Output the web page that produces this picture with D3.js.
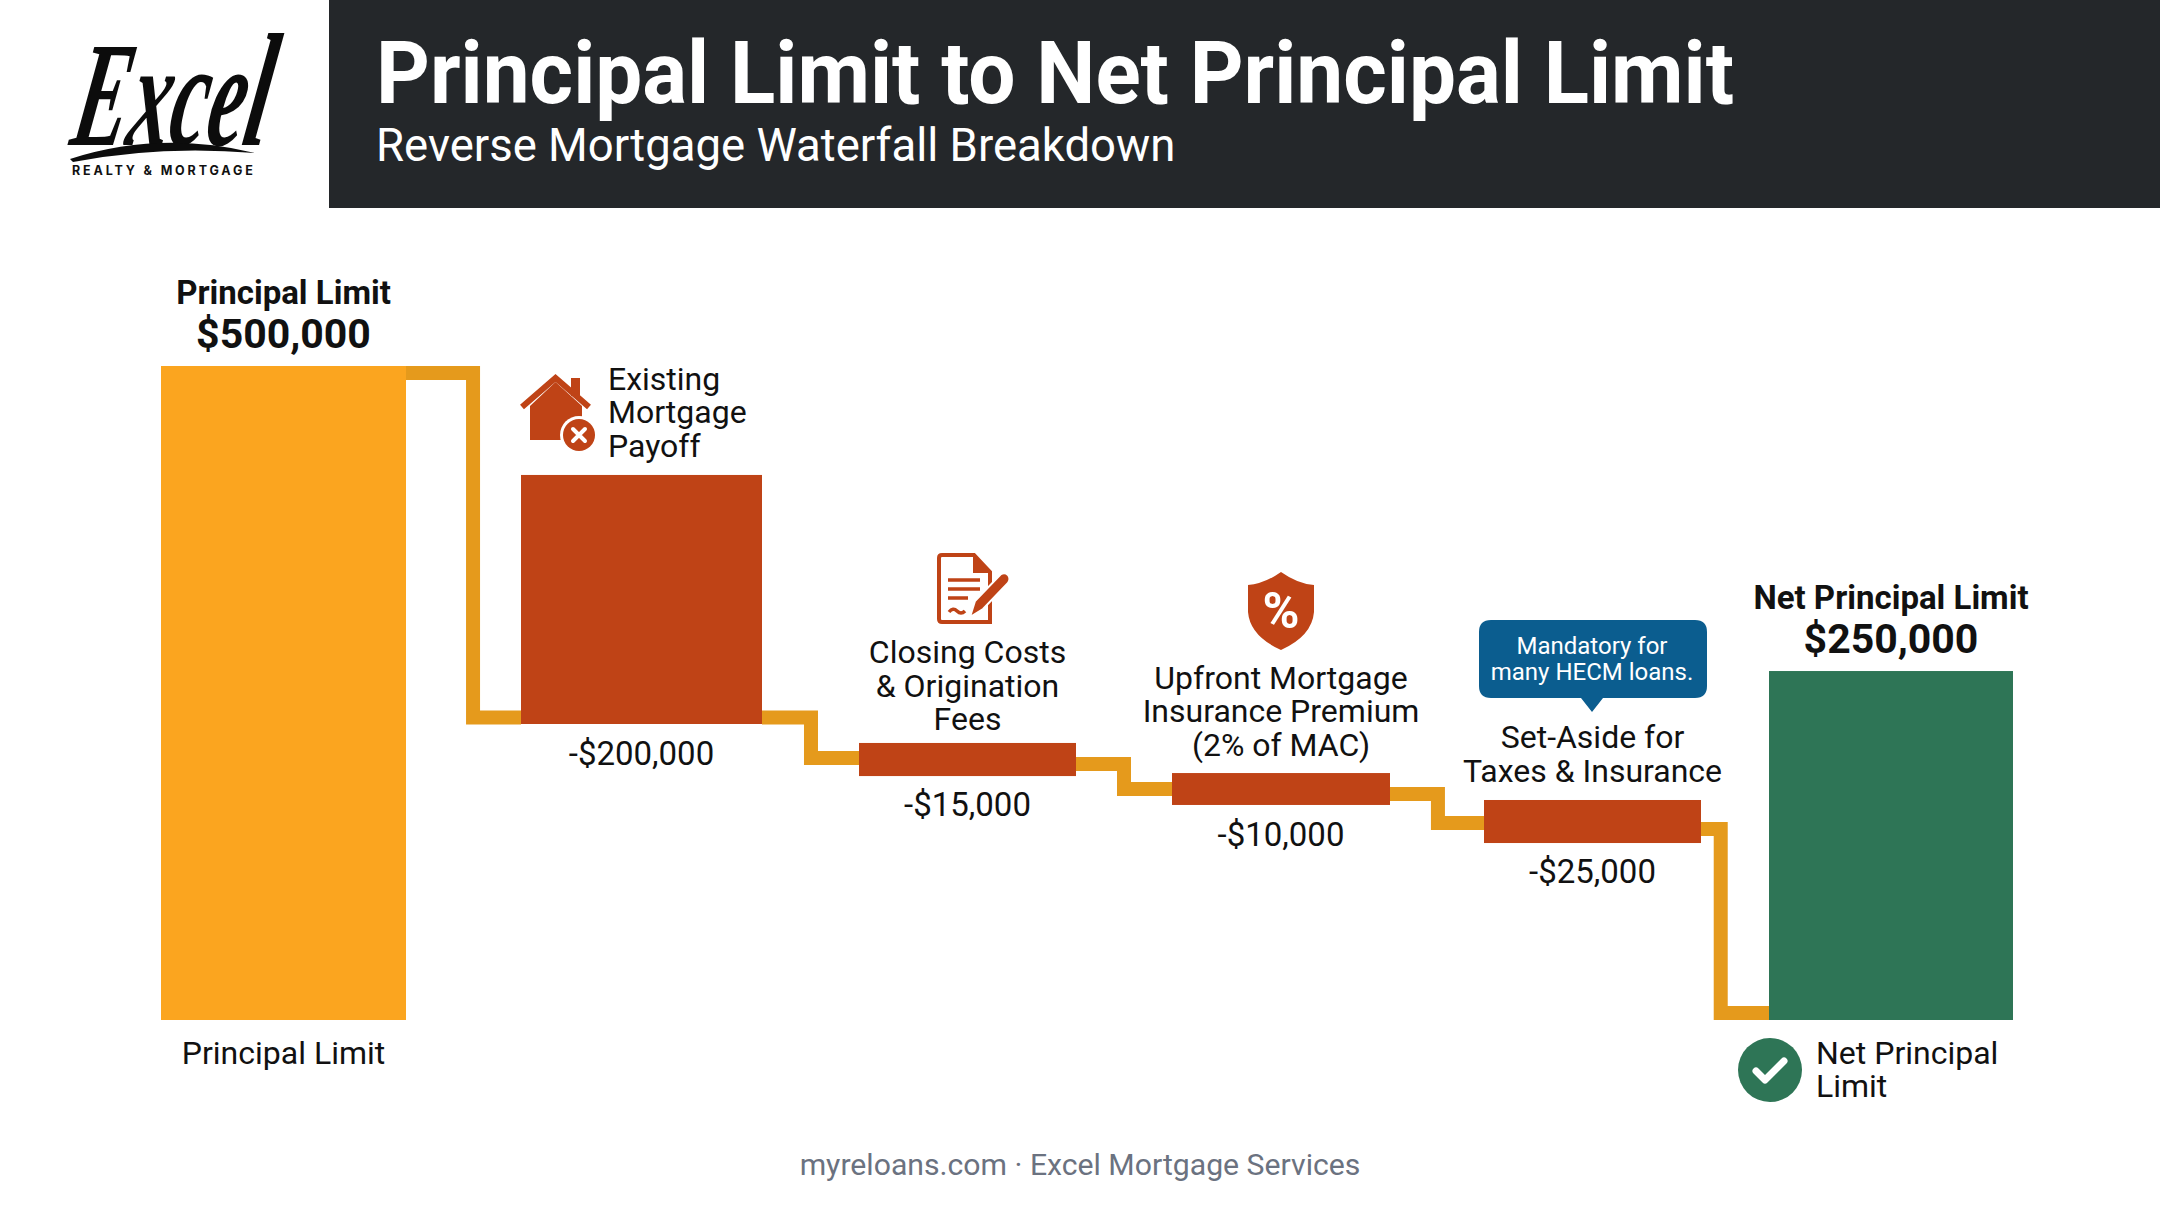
<!DOCTYPE html>
<html>
<head>
<meta charset="utf-8">
<script src="https://cdn.jsdelivr.net/npm/d3@7"></script>
<style>
  html, body { margin: 0; padding: 0; background: #fff; }
  svg { display: block; }
  text { font-family: Roboto, sans-serif; }
</style>
</head>
<body>
<script>
const categories = ["Principal Limit", "Existing Mortgage Payoff", "Closing Costs & Origination Fees",
  "Upfront Mortgage Insurance Premium", "Set-Aside for Taxes & Insurance", "Net Principal Limit"];
const amountLabels = ["$500,000", "-$200,000", "-$15,000", "-$10,000", "-$25,000", "$250,000"];
// the bars in the picture are not to scale with their printed amounts,
// so these are the extents, in dollars of the first bar's scale
const barTops = [500000, 416700, 211800, 188800, 168200, 266800];
const barBottoms = [0, 226300, 186500, 164400, 135300, 0];
// connector levels leaving each bar and arriving at the next one
const connectorFrom = [494700, 231300, 195700, 172800, 146000];
const connectorTo = [231300, 200300, 176600, 150600, 5400];
const barKinds = ["start", "cost", "cost", "cost", "cost", "end"];

const width = 2160;
const height = 1206;

// layout
const barCenters = [283.5, 641.5, 967.5, 1281, 1592.5, 1891];
const barWidths = [245, 241, 217, 218, 217, 244];
const elbowFractions = [0.583, 0.505, 0.5, 0.51, 0.29];
const colors = { start: "#FBA51F", cost: "#BF4316", end: "#2E7556" };
const connectorColor = "#E59A1C";
const inkColor = "#111111";

const x = d3.scaleOrdinal().domain(categories).range(barCenters);
const w = d3.scaleOrdinal().domain(categories).range(barWidths);
const y = d3.scaleLinear().domain([0, 500000]).range([1020, 366]);
const color = d3.scaleOrdinal().domain(["start", "cost", "end"]).range([colors.start, colors.cost, colors.end]);

const svg = d3.select("body").append("svg")
  .attr("width", width)
  .attr("height", height)
  .attr("viewBox", [0, 0, width, height]);

// one text element per block, one tspan per line
function label(g, lines, px, baselines, size, opts) {
  opts = opts || {};
  const t = g.append("text")
    .attr("text-anchor", opts.anchor || "middle")
    .attr("font-size", size)
    .attr("font-weight", opts.weight || 400)
    .attr("fill", opts.fill || inkColor);
  if (lines.length === 1) {
    t.attr("x", px).attr("y", baselines[0]).text(lines[0]);
    return t;
  }
  t.selectAll("tspan")
    .data(lines)
    .enter()
    .append("tspan")
    .attr("x", px)
    .attr("y", function (d, i) { return baselines[i]; })
    .text(function (d) { return d; });
  return t;
}

// header
svg.append("rect").attr("x", 329).attr("y", 0).attr("width", width - 329).attr("height", 208).attr("fill", "#24272A");
label(svg, ["Principal Limit to Net Principal Limit"], 376, [103], 87, { anchor: "start", weight: 700, fill: "#fff" })
  .attr("textLength", 1358)
  .attr("lengthAdjust", "spacingAndGlyphs");
label(svg, ["Reverse Mortgage Waterfall Breakdown"], 376, [161], 45.5, { anchor: "start", fill: "#fff" });

// logo
const logo = svg.append("g");
const logoText = logo.append("text")
  .attr("transform", "translate(68,145) skewX(-10) scale(0.95,1.7)")
  .attr("font-size", 88)
  .attr("font-style", "italic")
  .attr("font-weight", 700)
  .style("font-family", "'Liberation Serif', serif")
  .attr("fill", "#0c0c0c");
logoText.append("tspan").text("Exce");
logoText.append("tspan").attr("font-size", 95).text("l");
logo.append("path")
  .attr("d", "M70 159 Q160 130 255 153 Q160 145 73 162 Z")
  .attr("fill", "#0c0c0c");
logo.append("text")
  .attr("x", 72).attr("y", 175)
  .attr("font-size", 12.5)
  .attr("font-weight", 700)
  .attr("letter-spacing", 2.85)
  .style("font-family", "Inter, sans-serif")
  .attr("fill", "#111")
  .text("REALTY & MORTGAGE");

// connectors go first so the bars sit on top of them
const connectorLine = d3.line().curve(d3.curveLinear);
const connectors = connectorFrom.map(function (d, i) {
  const a = categories[i];
  const b = categories[i + 1];
  const x0 = x(a) + w(a) / 2;
  const x1 = x(b) - w(b) / 2;
  const xm = x0 + (x1 - x0) * elbowFractions[i];
  return [[x0, y(d)], [xm, y(d)], [xm, y(connectorTo[i])], [x1, y(connectorTo[i])]];
});
svg.selectAll(".connector")
  .data(connectors)
  .enter()
  .append("path")
  .attr("class", "connector")
  .attr("d", connectorLine)
  .attr("fill", "none")
  .attr("stroke", connectorColor)
  .attr("stroke-width", 14)
  .attr("stroke-linejoin", "miter");

// bars
svg.selectAll(".bar")
  .data(categories)
  .enter()
  .append("rect")
  .attr("class", "bar")
  .attr("x", function (d) { return x(d) - w(d) / 2; })
  .attr("width", function (d) { return w(d); })
  .attr("y", function (d, i) { return y(barTops[i]); })
  .attr("height", function (d, i) { return y(barBottoms[i]) - y(barTops[i]); })
  .attr("fill", function (d, i) { return color(barKinds[i]); });

// labels
const labels = svg.append("g");
const fs = 32;
const amountSize = 33;
const headSize = 33;
label(labels, ["Principal Limit"], x(categories[0]), [304], headSize, { weight: 700 });
label(labels, [amountLabels[0]], x(categories[0]), [348], 41, { weight: 700 });
label(labels, ["Principal Limit"], x(categories[0]), [1064], fs);

label(labels, ["Existing", "Mortgage", "Payoff"], 608, [390, 423, 457], fs, { anchor: "start" });
label(labels, [amountLabels[1]], x(categories[1]), [765], amountSize);

label(labels, ["Closing Costs", "& Origination", "Fees"], x(categories[2]), [663, 697, 730], fs);
label(labels, [amountLabels[2]], x(categories[2]), [816], amountSize);

label(labels, ["Upfront Mortgage", "Insurance Premium", "(2% of MAC)"], x(categories[3]), [689, 722, 756], fs);
label(labels, [amountLabels[3]], x(categories[3]), [846], amountSize);

label(labels, ["Set-Aside for", "Taxes & Insurance"], x(categories[4]), [748, 782], fs);
label(labels, [amountLabels[4]], x(categories[4]), [883], amountSize);

label(labels, ["Net Principal Limit"], x(categories[5]), [609], headSize, { weight: 700 });
label(labels, [amountLabels[5]], x(categories[5]), [653], 41, { weight: 700 });
label(labels, ["Net Principal", "Limit"], 1816, [1064, 1097], fs, { anchor: "start" });

label(svg, ["myreloans.com · Excel Mortgage Services"], width / 2, [1175], 30.2, { fill: "#6B7280" });

// callout
const callout = svg.append("g");
callout.append("path")
  .attr("d", "M1491 620 H1695 Q1707 620 1707 632 V686 Q1707 698 1695 698 H1603 L1592 712 L1581 698 H1491 Q1479 698 1479 686 V632 Q1479 620 1491 620 Z")
  .attr("fill", "#0B5D8F");
label(callout, ["Mandatory for", "many HECM loans."], 1592, [654, 680], 24, { fill: "#fff" });

// house icon
const red = colors.cost;
const house = svg.append("g");
house.append("path").attr("d", "M530 406 L555.5 382 L582 406 V440 H530 Z").attr("fill", red);
house.append("path").attr("d", "M522 407 L555.5 378 L589 407").attr("fill", "none").attr("stroke", red).attr("stroke-width", 6);
house.append("rect").attr("x", 571).attr("y", 378).attr("width", 9).attr("height", 18).attr("fill", red);
house.append("circle").attr("cx", 579).attr("cy", 435).attr("r", 19).attr("fill", "#fff");
house.append("circle").attr("cx", 579).attr("cy", 435).attr("r", 16).attr("fill", red);
house.append("path").attr("d", "M573 429 L585 441 M585 429 L573 441").attr("stroke", "#fff").attr("stroke-width", 4).attr("stroke-linecap", "round");

// document icon
const doc = svg.append("g");
doc.append("path")
  .attr("d", "M942 555 H974 L990 572 V622 H942 Q939 622 939 619 V558 Q939 555 942 555 Z")
  .attr("fill", "#fff").attr("stroke", red).attr("stroke-width", 4);
doc.append("path").attr("d", "M973 555 V573 H990 Z").attr("fill", red);
doc.append("path").attr("d", "M948 580 H980 M948 589 H980 M948 598 H968 M949 612 Q953 607 957 611 T965 611")
  .attr("fill", "none").attr("stroke", red).attr("stroke-width", 3.5);
doc.append("path").attr("d", "M970 617 L975 601 L1001 574 Q1005 572 1008 575 Q1011 579 1008 583 L983 609 Z")
  .attr("fill", red).attr("stroke", "#fff").attr("stroke-width", 2);

// shield icon
const shield = svg.append("g");
shield.append("path")
  .attr("d", "M1281 572 Q1298 584 1314 585 V612 Q1312 636 1281 650 Q1250 636 1248 612 V585 Q1264 584 1281 572 Z")
  .attr("fill", red);
label(shield, ["%"], 1281, [628], 50, { fill: "#fff", weight: 700 });

// check icon
const check = svg.append("g");
check.append("circle").attr("cx", 1770).attr("cy", 1070).attr("r", 32).attr("fill", colors.end);
check.append("path").attr("d", "M1756 1071 L1765 1080 L1784 1061")
  .attr("fill", "none").attr("stroke", "#fff").attr("stroke-width", 7).attr("stroke-linecap", "round").attr("stroke-linejoin", "round");
</script>
</body>
</html>
